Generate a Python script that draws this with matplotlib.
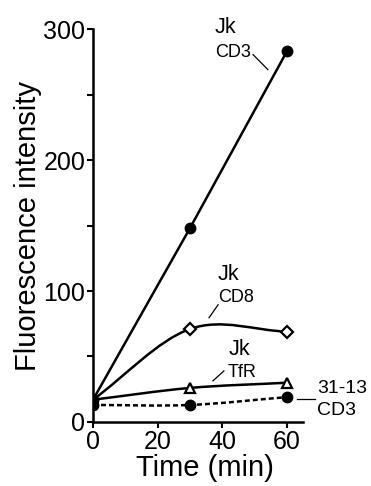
import matplotlib
matplotlib.use("Agg")
import matplotlib.pyplot as plt
from matplotlib.path import Path
from matplotlib.patches import PathPatch
import numpy as np

plt.rcParams['font.family'] = ['Liberation Sans', 'DejaVu Sans']

time = [0, 30, 60]
jk_cd3 = [17, 148, 283]
jk_cd8 = [17, 71, 69]
jk_tfr = [17, 26, 30]
c3113_cd3 = [13, 13, 19]


def smooth_path(x, y):
    # cardinal spline through the points, as cubic bezier segments
    x = np.asarray(x, float)
    y = np.asarray(y, float)
    n = len(x)
    m = np.zeros(n)
    m[0] = (y[1] - y[0]) / (x[1] - x[0])
    m[-1] = (y[-1] - y[-2]) / (x[-1] - x[-2])
    for i in range(1, n - 1):
        m[i] = (y[i + 1] - y[i - 1]) / (x[i + 1] - x[i - 1])
    verts = [(x[0], y[0])]
    codes = [Path.MOVETO]
    for i in range(n - 1):
        h = x[i + 1] - x[i]
        verts += [(x[i] + h / 3, y[i] + m[i] * h / 3),
                  (x[i + 1] - h / 3, y[i + 1] - m[i + 1] * h / 3),
                  (x[i + 1], y[i + 1])]
        codes += [Path.CURVE4] * 3
    return Path(verts, codes)


fig = plt.figure(figsize=(3.71, 4.86), dpi=100)
ax = fig.add_axes([0.2507, 0.1317, 0.5663, 0.8086])

lw = 1.8
ax.plot(time, jk_cd3, color='black', lw=lw, zorder=3)
ax.add_patch(PathPatch(smooth_path(time, jk_cd8), fill=False, lw=lw, ec='black', zorder=3))
ax.add_patch(PathPatch(smooth_path(time, jk_tfr), fill=False, lw=lw, ec='black', zorder=3))
ax.add_patch(PathPatch(smooth_path(time, c3113_cd3), fill=False, lw=lw, ec='black',
                       ls=(0, (2, 1.2)), zorder=3))

ax.plot(time[1:], jk_cd8[1:], 'D', ms=6, mfc='white', mec='black', mew=1.6, zorder=4)
ax.plot(time[1:], jk_tfr[1:], '^', ms=7.5, mfc='white', mec='black', mew=1.6, zorder=4)
ax.plot(time, c3113_cd3, 'o', ms=7.5, color='black', zorder=5)
ax.plot(time, jk_cd3, 'o', ms=7.5, color='black', zorder=5)

# labels
big, small = 15.5, 13
ax.text(37.7, 297, 'Jk', fontsize=big, clip_on=False)
ax.text(37.7, 278.5, 'CD3', fontsize=small, clip_on=False)
ax.plot([49.5, 54.1], [280.5, 269], color='black', lw=0.9, clip_on=False)

ax.text(38.7, 108.6, 'Jk', fontsize=big)
ax.text(38.7, 91.8, 'CD8', fontsize=small)
ax.plot([38.7, 35.9], [89.5, 79.6], color='black', lw=0.9)

ax.text(41.8, 51.3, 'Jk', fontsize=big)
ax.text(41.8, 34.4, 'TfR', fontsize=small)
ax.plot([40.5, 37.1], [39, 31.4], color='black', lw=0.9)

ax.text(69.3, 22.2, '31-13', fontsize=14, clip_on=False)
ax.text(69.3, 5.4, 'CD3', fontsize=14, clip_on=False)
ax.plot([63.1, 68.7], [17.6, 17.6], color='black', lw=0.9, clip_on=False)

ax.set_xlim(0, 65)
ax.set_ylim(0, 300)
ax.set_xticks([0, 20, 40, 60])
ax.set_yticks([0, 100, 200, 300])
ax.set_yticks([50, 150, 250], minor=True)
for s in ['top', 'right']:
    ax.spines[s].set_visible(False)
for s in ['left', 'bottom']:
    ax.spines[s].set_linewidth(1.8)
ax.tick_params(which='both', direction='out', length=4, width=1.5, labelsize=18, pad=1.5)

ax.set_ylabel('Fluorescence intensity', fontsize=21, va='center')
ax.yaxis.set_label_coords(-0.31, 0.5)
ax.set_xlabel('Time (min)', fontsize=21, va='center')
ax.xaxis.set_label_coords(0.533, -0.117)

fig.savefig('out.png', dpi=100)
